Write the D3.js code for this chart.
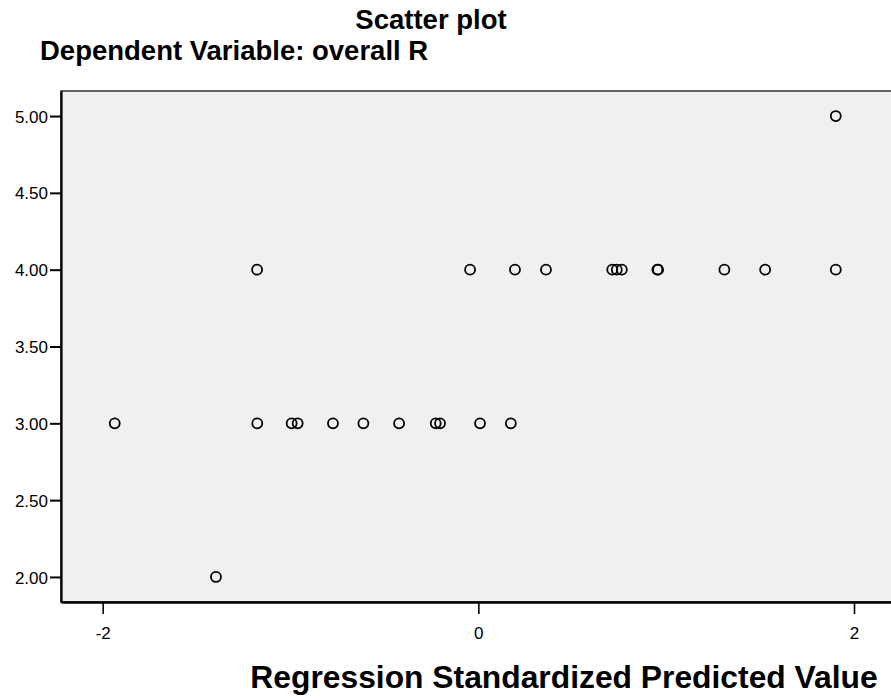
<!DOCTYPE html>
<html>
<head>
<meta charset="utf-8">
<script src="https://cdn.jsdelivr.net/npm/d3@7"></script>
<style>
  body { margin: 0; background: #fff; }
  text { font-family: Arial, "Liberation Sans", sans-serif; fill: #000; }
  .title { font-weight: bold; }
</style>
</head>
<body>
<svg width="891" height="700"></svg>
<script>
// standardized predicted value (x) and observed overall R (y), one pair per case
const predicted = [
  -1.936, -1.177, -0.994, -0.962, -0.774, -0.612, -0.422, -0.227, -0.204, 0.009, 0.173,
  -1.178, -0.044, 0.195, 0.36, 0.713, 0.737, 0.764, 0.953, 0.957, 1.31, 1.527, 1.903,
  1.903,
  -1.397
];
const observed = [
  3, 3, 3, 3, 3, 3, 3, 3, 3, 3, 3,
  4, 4, 4, 4, 4, 4, 4, 4, 4, 4, 4, 4,
  5,
  2
];
const xTicks = [-2, 0, 2];
const yTicks = [2, 2.5, 3, 3.5, 4, 4.5, 5];

const svg = d3.select("svg");
const plotLeft = 61, plotTop = 91, plotRight = 891, plotBottom = 602;

const x = d3.scaleLinear().domain([-2.222, 2.197]).range([plotLeft, plotRight]);
const y = d3.scaleLinear().domain([1.837, 5.163]).range([plotBottom, plotTop]);

// panel
svg.append("rect")
    .attr("x", plotLeft).attr("y", plotTop)
    .attr("width", plotRight - plotLeft + 5).attr("height", plotBottom - plotTop)
    .attr("fill", "#f0f0f0")
    .attr("stroke", "#000").attr("stroke-width", 1.2);

// axes
const yAxis = svg.append("g")
    .attr("transform", `translate(${plotLeft},0)`)
    .call(d3.axisLeft(y).tickValues(yTicks).tickFormat(d3.format(".2f"))
        .tickSize(11).tickSizeOuter(0).tickPadding(2));
yAxis.select(".domain").attr("stroke-width", 2.2);
yAxis.selectAll(".tick line").attr("stroke-width", 2);
yAxis.selectAll(".tick text").style("font-size", "17px").attr("dy", "0.36em");

const xAxis = svg.append("g")
    .attr("transform", `translate(0,${plotBottom})`)
    .call(d3.axisBottom(x).tickValues(xTicks).tickFormat(d => String(d))
        .tickSize(12).tickSizeOuter(0).tickPadding(13));
xAxis.select(".domain").attr("stroke-width", 2.4);
xAxis.selectAll(".tick line").attr("stroke-width", 1.6);
xAxis.selectAll(".tick text").style("font-size", "17px");
svg.selectAll(".domain").attr("stroke", "#000");

// points
svg.append("g")
  .selectAll("circle")
  .data(predicted.map((p, i) => [p, observed[i]]))
  .join("circle")
    .attr("cx", d => x(d[0]))
    .attr("cy", d => y(d[1]))
    .attr("r", 5)
    .attr("fill", "none")
    .attr("stroke", "#000")
    .attr("stroke-width", 1.8);

// titles
svg.append("text").attr("class", "title")
    .attr("x", 431).attr("y", 29)
    .attr("text-anchor", "middle")
    .style("font-size", "27.5px")
    .text("Scatter plot");
svg.append("text").attr("class", "title")
    .attr("x", 40).attr("y", 60)
    .style("font-size", "27.5px")
    .text("Dependent Variable: overall R");
svg.append("text").attr("class", "title")
    .attr("x", 564).attr("y", 688)
    .attr("text-anchor", "middle")
    .style("font-size", "31.8px")
    .text("Regression Standardized Predicted Value");
</script>
</body>
</html>
